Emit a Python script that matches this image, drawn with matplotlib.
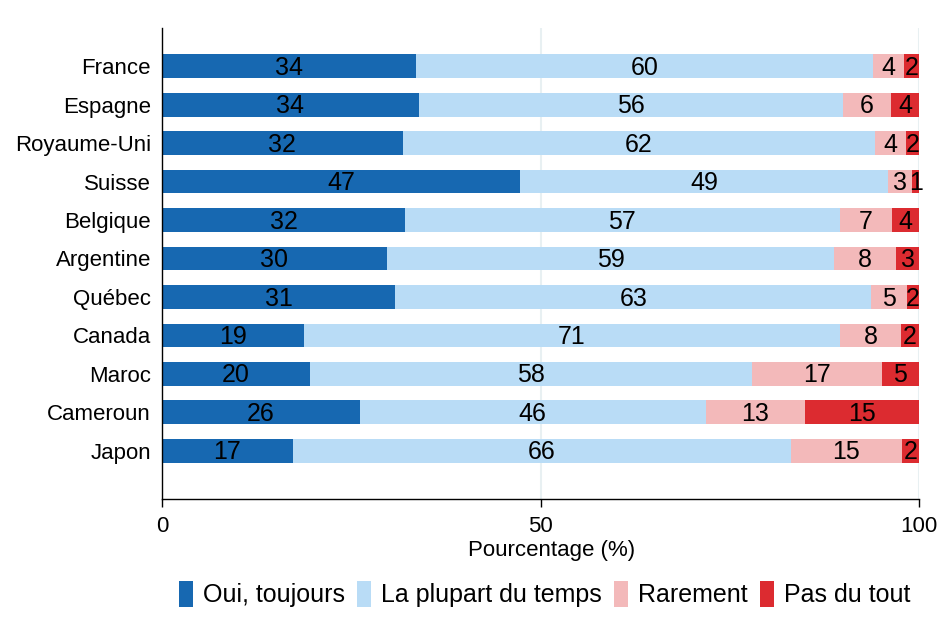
import numpy as np
import matplotlib
matplotlib.use('Agg')
import matplotlib.pyplot as plt
from matplotlib.patches import Patch

plt.rcParams['font.family'] = ['Liberation Sans', 'DejaVu Sans']

# data (percent), top to bottom
countries = ['France', 'Espagne', 'Royaume-Uni', 'Suisse', 'Belgique',
             'Argentine', 'Québec', 'Canada', 'Maroc', 'Cameroun', 'Japon']
oui_toujours = [33.6, 33.9, 31.8, 47.3, 32.1, 29.7, 30.8, 18.7, 19.6, 26.1, 17.3]
plupart_temps = [60.3, 56.0, 62.4, 48.6, 57.4, 59.1, 62.9, 70.9, 58.4, 45.7, 65.8]
rarement = [4.1, 6.4, 4.1, 3.2, 6.9, 8.2, 4.7, 8.0, 17.1, 13.2, 14.6]
pas_du_tout = [2.0, 3.7, 1.7, 0.9, 3.6, 3.0, 1.6, 2.4, 4.9, 15.0, 2.3]

categories = ['Oui, toujours', 'La plupart du temps', 'Rarement', 'Pas du tout']
colors = ['#1768b1', '#b9dcf6', '#f3b9ba', '#dc2b30']
series = [oui_toujours, plupart_temps, rarement, pas_du_tout]

W, H = 941, 639
fig = plt.figure(figsize=(W / 100, H / 100), dpi=100)
ax = fig.add_axes([162 / W, (H - 499) / H, (919 - 162) / W, (499 - 28) / H])

y = np.arange(len(countries))[::-1]
left = np.zeros(len(countries))
for vals, col, name in zip(series, colors, categories):
  vals = np.array(vals)
  ax.barh(y, vals, left=left, height=0.62, color=col, label=name, zorder=2)
  for yi, l, v in zip(y, left, vals):
    ax.text(l + v / 2, yi - 0.04, '%d' % round(v), ha='center', va='center',
            fontsize=18, color='black', zorder=3)
  left += vals

ax.set_xlim(0, 100)
ax.set_ylim(-1.25, 10.99)
ax.set_yticks(y)
ax.set_yticklabels(countries, fontsize=16)
ax.tick_params(axis='y', length=0, pad=8)
ax.set_xticks([0, 50, 100])
ax.tick_params(axis='x', length=6, width=1, labelsize=16, pad=6)
ax.set_xlabel('Pourcentage (%)', fontsize=16)
ax.xaxis.set_label_coords(0.514, -0.087)
ax.grid(axis='x', color='#e8f0f2', linewidth=1.5, zorder=0)
ax.set_axisbelow(True)
for s in ['top', 'right']:
  ax.spines[s].set_visible(False)
for s in ['left', 'bottom']:
  ax.spines[s].set_linewidth(1)

handles = [Patch(facecolor=c, edgecolor='none') for c in colors]
fig.legend(handles, categories, loc='center', bbox_to_anchor=(0.579, 1 - 594 / H),
           ncol=4, frameon=False, fontsize=18, handlelength=0.55, handleheight=1.2,
           handletextpad=0.4, columnspacing=0.5)

fig.savefig('out.png', dpi=100)
